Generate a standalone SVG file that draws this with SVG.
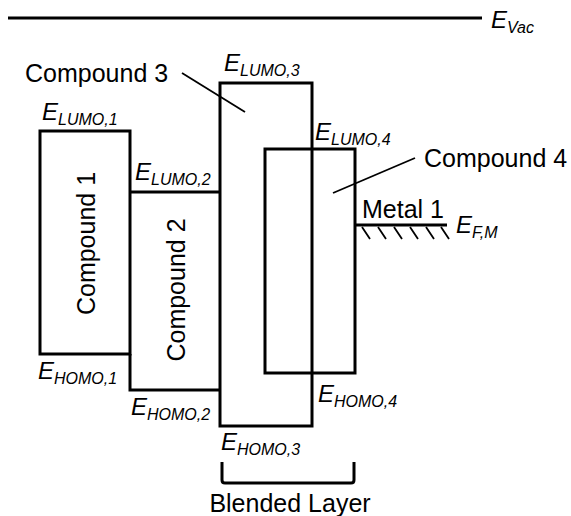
<svg xmlns="http://www.w3.org/2000/svg" width="571" height="516" viewBox="0 0 571 516">
<style>
.box{fill:none;stroke:#000;stroke-width:3}
.thin{fill:none;stroke:#000;stroke-width:1.8}
.lbl{font-family:"Liberation Sans",Arial,sans-serif;font-size:25px;fill:#000}
.e{font-family:"Liberation Sans",Arial,sans-serif;font-size:24px;font-style:italic;fill:#000}
.s{font-size:16px}
</style>
<rect width="571" height="516" fill="#fff"/>
<g id="vacuum">
<line class="box" x1="8" y1="18" x2="482" y2="18"/>
<text class="e" x="491" y="28">E<tspan class="s" dy="5">Vac</tspan></text>
</g>
<g id="compound1">
<rect class="box" x="40" y="131" width="90" height="223"/>
<text class="lbl" transform="translate(95,243.5) rotate(-90)" text-anchor="middle">Compound 1</text>
<text class="e" x="42" y="120">E<tspan class="s" dy="5">LUMO,1</tspan></text>
<text class="e" x="38" y="379">E<tspan class="s" dy="5">HOMO,1</tspan></text>
</g>
<g id="compound2">
<path class="box" d="M130,192 H220 M130,354 V390 H220"/>
<text class="lbl" transform="translate(185,290) rotate(-90)" text-anchor="middle">Compound 2</text>
<text class="e" x="135" y="180">E<tspan class="s" dy="5">LUMO,2</tspan></text>
<text class="e" x="131" y="415">E<tspan class="s" dy="5">HOMO,2</tspan></text>
</g>
<g id="compound3">
<rect class="box" x="220" y="83" width="92" height="343"/>
<text class="lbl" x="25" y="82">Compound 3</text>
<text class="e" x="224" y="71">E<tspan class="s" dy="5">LUMO,3</tspan></text>
<text class="e" x="221" y="450">E<tspan class="s" dy="5">HOMO,3</tspan></text>
</g>
<g id="compound4">
<rect class="box" x="265" y="149" width="90" height="224"/>
<text class="lbl" x="424" y="167">Compound 4</text>
<text class="e" x="315" y="140">E<tspan class="s" dy="5">LUMO,4</tspan></text>
<text class="e" x="318" y="402">E<tspan class="s" dy="5">HOMO,4</tspan></text>
</g>
<g id="metal1">
<line class="box" x1="355" y1="225" x2="447" y2="225"/>
<path class="thin" stroke-width="2.2" d="M362,227 l8,12 M378,227 l8,12 M394,227 l8,12 M410,227 l8,12 M426,227 l8,12 M441,227 l8,12"/>
<text class="lbl" x="362" y="218">Metal 1</text>
<text class="e" x="456" y="233">E<tspan class="s" dy="5">F,M</tspan></text>
</g>
<g id="blended">
<path class="box" stroke-width="2.5" d="M222,462 V480 Q222,483 225,483 H351 Q354,483 354,480 V462"/>
<text class="lbl" x="290" y="512" text-anchor="middle">Blended Layer</text>
</g>
<g id="connectors">
<line class="thin" x1="182" y1="73" x2="245" y2="112"/>
<line class="thin" x1="415" y1="158" x2="333" y2="193"/>
</g>
</svg>
